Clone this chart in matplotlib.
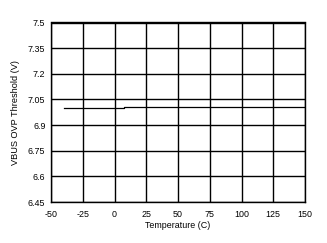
import matplotlib.pyplot as plt

plt.rcParams['font.family'] = ['Liberation Sans', 'DejaVu Sans']
plt.rcParams['axes.unicode_minus'] = False

temperature = [-40, -25, 0, 7.5, 7.5, 25, 50, 75, 100, 125, 150]
threshold = [7.0, 7.0, 7.0, 7.0, 7.006, 7.006, 7.006, 7.006, 7.006, 7.006, 7.006]

x_ticks = [-50, -25, 0, 25, 50, 75, 100, 125, 150]
y_ticks = [6.45, 6.6, 6.75, 6.9, 7.05, 7.2, 7.35, 7.5]
y_labels = ['6.45', '6.6', '6.75', '6.9', '7.05', '7.2', '7.35', '7.5']

fig = plt.figure(figsize=(3.27, 2.43), dpi=100)
ax = fig.add_axes([51 / 327, 1 - 202 / 243, 254 / 327, 179.5 / 243])

ax.plot(temperature, threshold, color='black', linewidth=0.9)

ax.set_xlim(-50, 150)
ax.set_ylim(6.45, 7.5)
ax.set_xticks(x_ticks)
ax.set_yticks(y_ticks)
ax.set_yticklabels(y_labels)
ax.grid(True, color='black', linewidth=1.0)
for s in ax.spines.values():
    s.set_linewidth(1.0)
ax.tick_params(length=0, labelsize=6.4, colors='black')
ax.tick_params(axis='x', pad=6)
ax.tick_params(axis='y', pad=4)

ax.set_xlabel('Temperature (C)', fontsize=6.4, labelpad=1)
ax.set_ylabel('VBUS OVP Threshold (V)', fontsize=6.6, labelpad=6)

fig.savefig('out.png', dpi=100)
